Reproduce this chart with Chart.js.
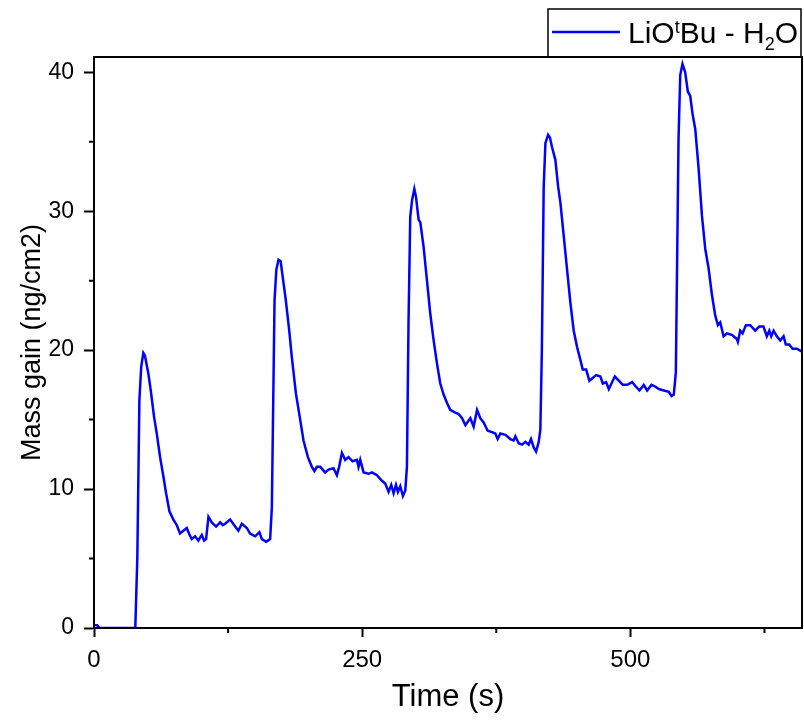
<!DOCTYPE html>
<html>
<head>
<meta charset="utf-8">
<title>Mass gain</title>
<script src="https://cdn.jsdelivr.net/npm/chart.js@4.4.1/dist/chart.umd.min.js"></script>
<style>
    html, body { margin: 0; padding: 0; background: #fff; }
    #massChart { display: block; }
</style>
</head>
<body>
<canvas id="massChart" width="804" height="724"></canvas>
<script>
// values
const timeS = [
    0, 3, 5, 38.5, 40.4, 42.3, 44, 46, 47.5, 50.7, 52.9, 56, 58.5, 61.6, 64.7, 67.2, 70.3, 74, 77.2, 80.2,
    83.3, 86.5, 88.5, 91.1, 94.2, 97.3, 100.5, 102.6, 104.5, 106.7, 109.8, 113.8, 117.6, 120, 122.2, 126.9,
    131.6, 134.6, 137.8, 142.5, 145.5, 150.2, 154.2, 156.5, 160.5, 164.2, 165.8, 168.3, 170, 172, 174,
    176.7, 178.8, 182, 184.4, 188.2, 192.2, 195.3, 199.4, 203.1, 205.5, 207.8, 210.9, 215.5, 218.6, 223.3,
    226.4, 228.5, 231.1, 234.2, 237.3, 241, 245.1, 246.6, 248.2, 251.3, 255.9, 259.1, 263.8, 268.4, 271.5,
    274.6, 277.1, 279.3, 281.5, 283.3, 285.5, 288, 290.2, 291.7, 293.2, 294.8, 296.5, 298.6, 300.2, 302.6,
    304.2, 307.3, 310.4, 313.5, 316.6, 319.8, 322.8, 325.9, 329.1, 332.1, 336.8, 339.9, 343.1, 346.2, 350.8,
    353.9, 357.1, 360.1, 363.2, 367, 371, 374.1, 376.3, 378.8, 383.5, 388.1, 391.2, 392.8, 395.9, 399.1,
    402.1, 405.2, 407.4, 409.9, 412.1, 414.6, 416.1, 417.5, 419.2, 420.8, 423.3, 425, 427, 430.1, 432.6,
    434.8, 437.9, 441, 444.1, 447.2, 450.4, 453.4, 455.6, 458.8, 461.8, 464.9, 468.1, 472.1, 474.3, 477.4,
    479.9, 482.4, 485.5, 489.2, 492.9, 497, 501.7, 504.8, 508.5, 512.5, 515.6, 519.7, 522.7, 526.5, 531.2,
    535.8, 538.4, 540.5, 542.4, 544.9, 546.5, 548.6, 551.1, 553.6, 555.8, 558, 560.5, 563.6, 566.7, 569.8,
    572.9, 576, 579.1, 581.6, 583.8, 586.9, 590, 594.6, 599.3, 600.2, 602.4, 604.6, 607.7, 611.7, 616.4,
    620.1, 624.1, 627.2, 629.5, 631.3, 633.5, 636.5, 639.7, 642.8, 644.9, 648.1, 651.2, 655.2, 659.9
];
const massGain = [
    0.2, 0.2, 0, 0, 5.1, 16.4, 18.8, 19.8, 19.6, 18.3, 17.1, 15.2, 14.0, 12.3, 10.9, 9.7, 8.4, 7.8, 7.4, 6.8,
    7.0, 7.2, 6.8, 6.4, 6.6, 6.3, 6.7, 6.3, 6.4, 8.0, 7.6, 7.3, 7.6, 7.4, 7.5, 7.8,
    7.3, 7.0, 7.5, 7.2, 6.8, 6.6, 6.9, 6.4, 6.2, 6.4, 8.7, 23.6, 25.8, 26.5, 26.4,
    24.8, 23.6, 21.4, 19.5, 16.9, 15.0, 13.5, 12.3, 11.6, 11.3, 11.6, 11.6, 11.2, 11.4, 11.5,
    11.0, 11.6, 12.6, 12.1, 12.3, 12.0, 12.1, 11.6, 12.1, 11.2, 11.1, 11.2, 11.0, 10.6, 10.4,
    9.8, 10.3, 9.7, 10.3, 9.8, 10.2, 9.5, 9.9, 11.6, 22, 29.6, 30.8, 31.6, 31.0, 29.4,
    29.2, 27.4, 25.0, 22.6, 20.7, 19.0, 17.6, 16.8, 16.2, 15.7, 15.5, 15.4, 15.1, 14.6, 15.1,
    14.5, 15.7, 15.1, 14.8, 14.2, 14.1, 14.0, 13.6, 14.0, 13.9, 13.6, 13.5, 13.8, 13.3, 13.2,
    13.4, 13.2, 13.6, 13.0, 12.7, 13.4, 14.3, 20, 31.7, 34.9, 35.5, 35.3, 34.6, 33.7, 31.8,
    30.6, 28.2, 25.8, 23.4, 21.4, 20.2, 19.3, 18.6, 18.6, 17.8, 18.0, 18.2, 18.1, 17.6, 17.7,
    17.2, 17.6, 18.1, 17.8, 17.5, 17.5, 17.7, 17.4, 17.1, 17.5, 17.1, 17.5, 17.4, 17.2, 17.1,
    17.0, 16.7, 16.8, 18.4, 35.2, 39.8, 40.6, 40.0, 38.6, 38.3, 37.0, 35.9, 33.1, 29.7, 27.3,
    25.9, 24.0, 22.5, 21.8, 22.0, 21.0, 21.2, 21.1, 20.8, 20.6, 21.4, 21.2, 21.8, 21.8, 21.4,
    21.7, 21.7, 21.0, 21.4, 21.0, 21.4, 21.0, 20.7, 21.0, 20.4, 20.4, 20.1, 20.1, 19.9
];
const xMajorTicks = [0, 250, 500];
const yMajorTicks = [0, 10, 20, 30, 40];

const BLUE = '#0000ff';
const SANS = "'Liberation Sans', Arial, sans-serif";
const NARROW = "'Liberation Sans Narrow', 'Arial Narrow', 'Liberation Sans', sans-serif";

// box round the plot, minor ticks and the legend with sub/superscripts
const framePlugin = {
    id: 'frame',
    afterDraw(chart) {
        const { ctx, chartArea: a, scales } = chart;
        ctx.save();
        ctx.strokeStyle = '#000';
        ctx.lineWidth = 2;
        ctx.strokeRect(a.left, a.top, a.right - a.left, a.bottom - a.top);

        // minor ticks
        ctx.beginPath();
        scales.x.ticks.forEach(t => {
            if (xMajorTicks.includes(t.value)) return;
            const px = scales.x.getPixelForValue(t.value);
            ctx.moveTo(px, a.bottom);
            ctx.lineTo(px, a.bottom + 5);
        });
        scales.y.ticks.forEach(t => {
            if (yMajorTicks.includes(t.value)) return;
            const py = scales.y.getPixelForValue(t.value);
            ctx.moveTo(a.left, py);
            ctx.lineTo(a.left - 5, py);
        });
        ctx.stroke();

        // legend
        const lx = 548, ly = 9, lw = 253, lh = a.top - ly;
        ctx.lineWidth = 1.5;
        ctx.strokeRect(lx, ly, lw, lh);
        ctx.strokeStyle = BLUE;
        ctx.lineWidth = 2.5;
        ctx.beginPath();
        ctx.moveTo(552, 32);
        ctx.lineTo(620, 32);
        ctx.stroke();

        ctx.fillStyle = '#000';
        ctx.textBaseline = 'alphabetic';
        ctx.textAlign = 'left';
        const base = 43;
        let x = 628;
        const part = (txt, size, dy) => {
            ctx.font = size + 'px ' + SANS;
            ctx.fillText(txt, x, base + dy);
            x += ctx.measureText(txt).width;
        };
        part('LiO', 30, 0);
        part('t', 18, -10);
        part('Bu - H', 30, 0);
        part('2', 18, 7);
        part('O', 30, 0);
        ctx.restore();
    }
};

const ctx = document.getElementById('massChart').getContext('2d');

const massChart = new Chart(ctx, {
    type: 'line',
    data: {
        datasets: [{
            label: 'LiOtBu - H2O',
            data: timeS.map((t, i) => ({ x: t, y: massGain[i] })),
            borderColor: BLUE,
            borderWidth: 2.5,
            pointRadius: 0,
            tension: 0,
            fill: false
        }]
    },
    options: {
        responsive: false,
        animation: false,
        layout: { padding: { top: 57, right: 2, left: 0, bottom: 0 } },
        plugins: {
            legend: { display: false },
            tooltip: { enabled: false }
        },
        scales: {
            x: {
                type: 'linear',
                min: 0,
                max: 660,
                afterFit: (scale) => { scale.height = 96; },
                border: { color: '#000', width: 2 },
                grid: {
                    drawOnChartArea: false,
                    tickLength: 9,
                    tickWidth: 2,
                    tickColor: (c) => xMajorTicks.includes(c.tick.value) ? '#000' : 'rgba(0,0,0,0)'
                },
                ticks: {
                    stepSize: 125,
                    includeBounds: false,
                    maxRotation: 0,
                    autoSkip: false,
                    padding: 9,
                    color: '#000',
                    font: { family: NARROW, size: 24 },
                    callback: (v) => xMajorTicks.includes(v) ? String(v) : ''
                },
                title: {
                    display: true,
                    text: 'Time (s)',
                    color: '#000',
                    font: { family: NARROW, size: 31 },
                    padding: { top: 0, bottom: 8 }
                }
            },
            y: {
                type: 'linear',
                min: 0,
                max: 41.1,
                afterFit: (scale) => { scale.width = 94; },
                border: { color: '#000', width: 2 },
                grid: {
                    drawOnChartArea: false,
                    tickLength: 10,
                    tickWidth: 2,
                    tickColor: (c) => yMajorTicks.includes(c.tick.value) ? '#000' : 'rgba(0,0,0,0)'
                },
                ticks: {
                    stepSize: 5,
                    includeBounds: false,
                    autoSkip: false,
                    padding: 10,
                    color: '#000',
                    font: { family: SANS, size: 23 },
                    callback: (v) => yMajorTicks.includes(v) ? String(v) : ''
                },
                title: {
                    display: true,
                    text: 'Mass gain (ng/cm2)',
                    color: '#000',
                    font: { family: SANS, size: 27 },
                    padding: { top: 16, bottom: 0 }
                }
            }
        }
    },
    plugins: [framePlugin]
});
</script>
</body>
</html>
